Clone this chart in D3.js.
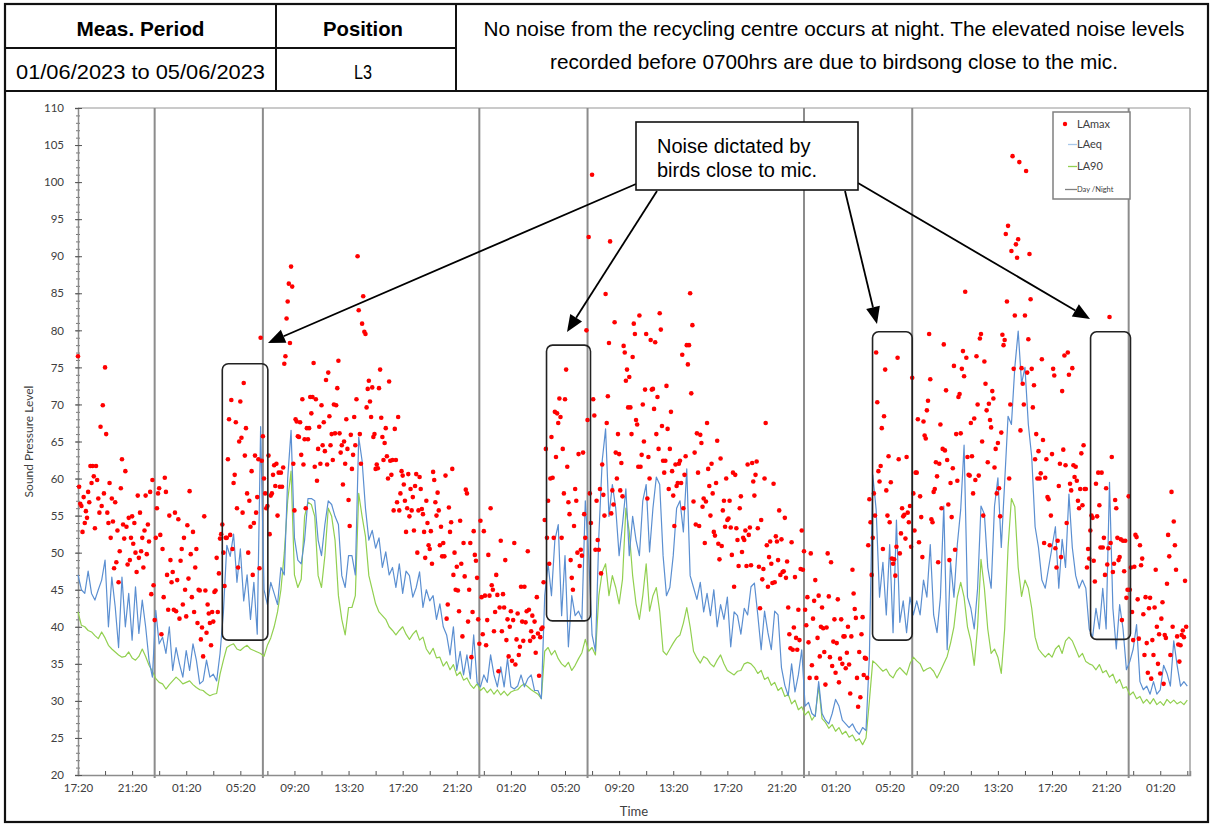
<!DOCTYPE html>
<html>
<head>
<meta charset="utf-8">
<script src="https://cdn.jsdelivr.net/npm/d3@7"></script>
<style>
  html, body { margin: 0; padding: 0; background: #fff; }
  svg { display: block; }
</style>
</head>
<body>
<svg id="chart" width="1211" height="825"></svg>
<script>
// ---- Survey metadata ----
const headerTitles = ["Meas. Period", "Position"];
const headerValues = ["01/06/2023 to 05/06/2023", "L3"];
const noteLines = [
  "No noise from the recycling centre occurs at night. The elevated noise levels",
  "recorded before 0700hrs are due to birdsong close to the mic."
];
const calloutLines = ["Noise dictated by", "birds close to mic."];

// ---- Time base ----
const startStamp = "2023-06-01T17:20";
const endStamp = "2023-06-05T03:32";
const lineStepMinutes = 15;   // LAeq / LA90 logging interval
const maxStepMinutes = 5;     // LAmax logging interval

// Day / night boundaries (23:00 and 07:00)
const dayNightStamps = [
  "2023-06-01T23:00", "2023-06-02T07:00", "2023-06-02T23:00", "2023-06-03T07:00",
  "2023-06-03T23:00", "2023-06-04T07:00", "2023-06-04T23:00"
];

// Periods where birdsong dominates the measurement
const birdPeriods = [
  { from: "2023-06-02T04:00", to: "2023-06-02T07:22", lo: 38.2, hi: 75.5 },
  { from: "2023-06-03T03:58", to: "2023-06-03T07:13", lo: 40.8, hi: 78.0 },
  { from: "2023-06-04T04:04", to: "2023-06-04T07:00", lo: 38.2, hi: 79.8 },
  { from: "2023-06-04T20:11", to: "2023-06-04T23:08", lo: 38.3, hi: 79.8 }
];

// Axis settings
const yMin = 20, yMax = 110;
const yMajorTicks = d3.range(20, 111, 5);
const yMinorTicks = d3.range(20, 111, 1);
const tickEveryHours = 2;
const labelEveryHours = 4;

// ---- Measured levels, dB(A) ----
const laeq = [
  47,45,44.5,47.5,44.5,43.6,45,46.3,49,40,
  46.7,42.7,37.2,46.7,40,44.5,38.2,45.4,39.1,43.6,
  40,35.5,33.2,42.2,37.7,38.6,36.4,40,34.1,37.2,
  35,33.2,36.8,34.1,37.7,35.5,32.3,32.7,35.5,33.2,
  33.6,32.7,36.4,42,51,49.5,52.5,46,50.5,43.5,
  47,41,46,39,67,45,43,46,44.5,43,
  48,47,60,66.5,52,49,48.5,51.7,57.3,57.3,
  57,51.7,49.6,53.8,57,56.5,54.9,53.8,46.9,45.3,
  49.6,49.6,47,65.6,62.4,56,51.7,53,50.6,52,
  48,50.1,47,48,45.3,48.5,44.5,47.5,46.9,44,
  45.3,47.4,42.6,45,43.5,44.2,41,43.1,40,38.9,
  36.2,40,34.1,36.7,33.5,36.2,33,38.9,32.5,31.9,
  33.5,32.5,36.2,33.5,31.9,34.6,31.9,35.7,31.9,31.6,
  32,33.5,31.9,33,33.5,31.4,31.4,30.3,44.2,48.5,
  44.2,51.7,53.8,41.5,49.6,37.3,44.2,41.5,42.1,41,
  57,49.6,38.9,36.7,52.2,62.4,66.7,54.9,59.2,56,
  49.6,53.8,58.6,49.6,54.9,51.7,49.6,57,59.2,50.1,
  56,60.2,59.2,49.6,44.2,45.3,49.6,56,57,52.8,
  61.3,46.9,45.3,43.7,46,42,44.5,41.5,45,40,
  43,41,44,37.3,42,41.5,39,42.5,41.6,45.4,
  45.9,41.6,36.9,42.1,39.2,36.9,42.1,41.6,34.5,32.1,
  30.7,35,31.2,33.5,36.9,29.3,29.8,28.3,27.9,32.6,
  28.3,27.4,26.9,28.3,30.2,29.3,27.4,26.9,26.4,26.9,
  26,25.5,26.4,26,36,60.5,55.8,44,48.7,41.6,
  51.1,39.2,54.4,40.6,43.5,39.2,44,41.6,43.5,41.6,
  46.3,44,51.1,41.6,39.2,44,56.3,36.9,48.7,44,
  51.1,55.8,64.5,44,42.5,39.7,45.2,56.3,55.2,48,
  45.2,56.3,60.1,50.7,59.5,68.4,67.3,75,79.9,72.8,
  75,67.3,62.9,53.5,50.7,46.3,45.2,48,50.7,53.5,
  45.2,51.8,48,57.9,50.7,46.9,45.2,46.3,45.2,39.7,
  38.6,42.5,39.7,45.2,39.7,59.5,42.5,37,43,39.7,
  34.2,35.3,37,40.3,32.6,31.5,32,30.9,32.6,30.9,
  31.5,34.8,33.7,32,38.1,34.8,32,32.6,32
];

const la90 = [
  42,40.2,40,39.5,39.3,38.8,38.4,39.3,38.5,37.5,
  37,36.6,36.2,35.9,36,36.6,35.8,35.5,36,37,
  36,34.8,34,33,32.5,32.3,31.6,32.2,32.7,33.2,
  32.8,32.3,32.5,32.7,32.2,31.8,31.5,31.4,31,30.7,
  30.9,31,33.6,35.5,37.2,37.5,37.7,37,36.8,37.2,
  37.5,37,36.8,36.6,36.4,36,37.5,38.5,40,42,
  45,50,57,61,47,45.3,46.4,54.9,56.8,56.5,
  54.9,46.9,45.3,49.6,56,54.9,51.7,44.2,41,38.9,
  42.6,42.6,44.2,58,54.9,52.2,46.9,45,43.1,42,
  41.5,41,40,39.5,38.9,39.5,40,39,38.3,39,
  39.5,38.2,38.6,37,36.3,37.1,35.8,35.9,34.7,35.3,
  34.2,34.9,33.4,33.9,32.8,33.1,32.2,31.7,32.3,31.4,
  31.8,31.1,31.6,30.9,31.5,30.8,31.3,30.7,31.2,31.4,
  31.5,32,32.3,31.9,31.5,31.2,30.9,30.3,36.7,37.2,
  36.2,36.8,35.7,35,34.6,35.2,34.1,34.8,35.7,36.5,
  38.3,36.7,37.2,36.2,44.2,47.4,48.5,44.2,46.9,45.3,
  43.1,46.4,56,52.8,46.9,43.1,41,44.2,48.5,42.1,
  44.2,45.3,42.1,36.7,36.2,37,37.8,38.5,38.9,40.5,
  42.6,40,36.7,35.8,35.1,36,35.7,35,34.6,35.5,
  36.2,35,34.1,33.8,33.5,34,34.1,35,35.2,35,
  34.5,33.7,34.1,32.9,33.2,32.1,32.5,31.4,31.8,30.6,
  30.9,29.6,30.1,28.8,29.2,28.1,28.6,27.4,28.1,32,
  27.6,27.1,26.3,26.8,25.9,26.4,25.5,25.9,25.1,25.4,
  24.6,24.9,24.1,25,30,35.4,35,34.5,34,34.3,
  33.5,33.1,34,34.5,34,33.5,35,35.9,35.4,35,
  34,34.3,34.5,34,33.1,34,35,36,37.8,40,
  44,46,44,40,38.1,34.8,40,49.1,45.2,39.7,
  36.4,37,35.9,33.7,39.7,50.7,57.3,56.2,48,44.1,
  46.3,45.2,42.5,38.6,37,36.4,35.9,36.4,35.9,37,
  37.5,36.4,38.1,38.6,38.1,37,35.9,36.4,35.3,35,
  34.8,34.2,34.9,33.8,34.1,33.2,33.6,32.4,32.9,31.7,
  31.9,30.8,31.2,30.3,30.6,29.7,30.2,29.6,30.3,29.5,
  29.9,29.4,30.2,29.7,30.1,29.6,29.9,29.5,30.1
];

const lamax = [
  76.5,58.9,56.6,56.3,52.8,57.5,54,55.6,54.7,58.2,56.8,61.7,
  59.4,61.7,60.3,53.3,61.7,59.8,57.3,55.4,67,56.3,69.9,58,
  75,66,55.4,54,59.4,52,57.3,54.2,47.9,56.8,48.7,53,
  46,50.2,58.7,62.6,53.8,51.9,61,53.5,48.4,54.7,49,52,
  54.9,51.2,54,50,47.4,57.7,49.3,55.4,50.2,52,48,53,
  57.7,49.8,53.8,51.5,58.2,44.4,59.8,45.6,40.9,52,56,58,
  58.7,52.4,39,50.5,44,60.1,58.2,47,42.3,55,49,46,
  47.4,42.3,55.4,42.1,46.3,54.5,41.1,48.9,50.5,43,52,45,
  41.4,53.7,46.5,58.3,49.8,44,52.8,42,48,50.5,40.5,45,
  44.9,38.3,39.9,36,54.9,44.9,39.2,43,41.8,40.5,37.5,42,
  40.7,44.7,44.9,49.3,42,47.2,51.9,52.5,53.8,50,45.5,52,
  52,62.6,68,52.4,70.6,50.5,59.4,60.5,67.6,56,48,65,
  70.4,65.5,55.4,72.9,63.1,66.8,58,50,57,53.5,61,47,
  54,63.1,55.4,57.5,62.6,47.9,79,62.4,65.7,60,58,56,
  56.3,63.1,52.5,57.7,58,60.5,61.8,59,62,55,60.8,58.9,
  60.8,58.9,61.5,75.5,76.5,81.6,83.9,86.3,78.3,88.6,85.9,62,
  55.7,68,67.7,65.7,65.6,67.6,63.2,70.7,61.9,65.3,56,66.8,
  65.3,66.8,71,68.8,71,75.6,61.6,70.7,59.7,64,67,62,
  69.9,64.5,67.6,63.7,73.3,61.9,74.3,68.4,64.5,66,62.5,70,
  66.1,69.9,72.2,75.9,66.1,63.5,64.5,59.2,65,62,68,64,
  57.1,53.6,65.9,61.3,63.2,68.3,64.5,70.7,90,82.7,66,62,
  80.9,84.6,79.8,79.5,69.6,72.1,73.2,70.4,68.3,72.3,65.6,66,
  61.3,61.9,61.4,72.2,74.7,68.2,65.6,62.5,64.8,66.8,63,60,
  73.1,62.4,60.5,62.5,55.7,66.7,62.5,56.8,68.3,55.7,58,61,
  60.4,59.2,57,52.8,56,60.6,54.9,58.6,55.7,57.5,53,59,
  60.6,50,55.7,60.2,58.6,55.9,55.2,52.8,49.3,57,54,51,
  50.5,52.9,48.5,60.9,59.8,56.8,55,58.1,55.7,51,53.5,49.5,
  51.3,49.5,60.4,41.1,43,56.1,52.8,54.1,61.3,47,50,45,
  48.1,44.9,42.1,54.3,48.5,38.7,51.3,46.8,58.5,58,40.7,45,
  51.3,35.9,42,52.9,49.7,48.9,46.6,41,37.7,54.3,44,39,
  52.9,44.2,37.5,40.9,49.7,44.2,56,45.6,45,39.4,42,47,
  44.3,34,42.6,51.6,39.4,44.4,42.6,49,38.2,41,36,40,
  42.1,35.4,40.9,51.3,34.9,38.3,41.8,36.2,37.3,45.4,40.7,38.1,
  45.4,40.6,42.1,50.2,42.3,38.1,39.4,41.5,38.6,40.7,36.5,44,
  39.1,33.4,38.6,39.7,39.9,46,54.4,64,52,57,48.5,60,
  65.6,60.1,52,69,62.9,68.8,67.5,70.8,68.3,52,64,58,
  70.7,74.7,61.6,56.8,55.2,49,46.6,45,53.6,58.6,57,50,
  63.3,48.2,50.4,49.6,63.5,55.2,52,80,67.9,92.6,58,54,
  101,70.7,68.5,50.4,57,51.7,50.4,58.6,47.2,61.9,57.8,55,
  84.9,67.5,71.1,78.3,92,55.3,58.4,56.5,81.1,63.5,60,66,
  63.3,58.4,62.1,57.6,77.9,77,73.2,74.7,69.6,73.7,69.6,66,
  76.4,80.9,79.5,67.9,67.3,61.6,82,61.6,63.2,70,65,72,
  79.5,57.3,62.9,60,78.7,72,72.1,69.4,78.4,66,71,64,
  82.3,80.1,67.1,62.4,60.8,62.4,72.5,66.7,58.6,64,69,61,
  57.7,53.6,61.9,59,59.4,62,62.4,59.4,76.7,56,60.5,63,
  78,75.4,78,85,71.5,80.7,56.9,63.5,53.8,66.1,60.8,53.6,
  65.9,64.8,56.2,57.3,51.3,56.9,67.5,61.3,59,55,62,58,
  52.8,52.3,59.4,65.1,51.2,49.1,62.7,50.9,55.7,57,53.5,60,
  54.4,54.6,57,53.4,49.7,60.8,45.4,60.5,53.3,51.7,48.2,56,
  57.6,50.1,52,51.7,53,48.2,61.9,52.4,53.4,48.3,62.1,59.6,
  57.7,60.5,62.3,53.3,48.1,42.5,54.4,46.4,47.8,60,67.5,51,
  45.4,49.4,51.5,48.5,45.9,59.3,46,52.2,51.5,49,55.7,47,
  51.8,47.4,47.5,54.7,46.6,48.8,42.6,39,37.1,51.4,36.9,39.9,
  46.7,38.5,36.9,42.3,38.2,47.8,53,47.7,50.2,42.3,40.2,44,
  37.9,33.1,49.9,34.8,41.1,43.5,46.3,33.1,38.5,44.2,36,40,
  42.6,39.8,36.6,32.2,39.9,49.9,44.1,35.9,48.7,34.7,38,41,
  33.8,37.8,43.7,32.5,35.7,41,35,38.7,38.7,34.4,36.5,40,
  34.9,31,38.7,47.7,44.5,42.4,41.2,33.1,29.2,36.6,30.5,39,
  41.3,33.5,35.8,35.7,33.1,51,57.2,54.1,47,52,58,55,
  77,70.3,61,59.6,61.7,66.8,50.5,68.4,74.7,58.4,55,63,
  54.1,59.5,49.2,48.5,49.1,46.9,50.8,76.3,62.6,49.9,52.6,56,
  54.9,55.1,51.9,62.9,55.4,54.1,56.3,50.8,73.6,58,53,60.8,
  60.8,68,51.4,57.6,54.8,49.4,67.7,65.8,65.4,69.2,70.5,79.5,
  73.4,54.5,54.1,58.2,58.6,62.2,60.3,48.7,62,67.3,56,64,
  78.1,63.8,71.9,62.5,56.5,49,59.4,54.8,61.4,75.2,50.4,66,
  59.7,71,71.4,66.1,74.8,77.2,73.8,85.2,76.3,62.9,60.5,60.4,
  67.5,63,58,68.1,59.8,76.5,70,60.4,78.9,79.5,65,55,
  75.8,72.8,69.2,62.2,70.1,67.9,66.9,71.8,70.8,61.5,64,58,
  64.8,58.7,54.9,66.2,79.4,78,78.7,93,83.9,94.1,60,70,
  90.7,103.5,74.8,82,91.6,89.8,92.3,102.7,66.5,74.9,72.8,70,
  82,101.5,74.3,78.8,90.3,84.2,74.8,69.6,72.6,62.6,66,60,
  63.7,60,60.7,76.1,65.2,51.3,60.1,62.6,57.5,57.2,51,55,
  63.3,74.8,73.9,50.6,48,51.6,59,62,49.4,71.8,63.9,76.6,
  61.8,54,77,74,59.3,58.4,74.9,61.8,60.2,61.6,59.7,57,
  56,58.6,63.4,56.4,64.5,58.6,58.6,48,50.5,49.2,53,55,
  54.7,48.9,46.1,59.3,54.9,60.8,56.4,50.7,60.8,50.7,52,47,
  58.7,48.4,50.6,81.8,51.3,62.9,47.4,48.5,57.1,56,52,49,
  49.4,51.8,40.9,51.6,47.5,51.6,43.9,45,57.6,45,48,42,
  38.2,48.1,52.4,52.1,43.7,38.4,51,48.3,49.2,41.7,36.2,44,
  37.8,33.8,42.5,43.9,33,38.2,36.2,42.6,47.7,40,35,39,
  33.7,41.1,43.3,32.3,38.9,38.5,45.8,52.4,49.5,36.2,58.2,40,
  54.2,51,47.7,38.7,37.6,35.3,37.5,38.9,39.5,38.6,46.2,40
];

// ---- Layout ----
const plot = { left: 78, right: 1190, top: 108, bottom: 775 };
const colors = {
  laeq: "#5b8fd1", laeqKey: "#a9c8ea", la90: "#92d050", lamax: "#ff0000",
  dayNight: "#8c8c8c", axis: "#8c8c8c", text: "#404040", dayNightKey: "#808080"
};
const chartFont = "Lato, 'Open Sans', sans-serif";
const narrowFont = "'Liberation Sans Narrow', 'Arial Narrow', 'Liberation Sans', sans-serif";

const parse = d3.timeParse("%Y-%m-%dT%H:%M");
const t0 = parse(startStamp), t1 = parse(endStamp);
const MIN = 60 * 1000;

const x = d3.scaleTime().domain([t0, t1]).range([plot.left, plot.right]);
const y = d3.scaleLinear().domain([yMin, yMax]).range([plot.bottom, plot.top]);

const svg = d3.select("#chart");

// ---- Header table ----
const header = svg.append("g");
const frame = { left: 5, right: 1208, top: 4, mid: 48, bottom: 91, col1: 276, col2: 456, base: 822 };
header.append("rect")
  .attr("x", frame.left).attr("y", frame.top)
  .attr("width", frame.right - frame.left).attr("height", frame.base - frame.top)
  .attr("fill", "none").attr("stroke", "#111").attr("stroke-width", 2.2);
header.append("line").attr("x1", frame.left).attr("x2", frame.right)
  .attr("y1", frame.bottom).attr("y2", frame.bottom).attr("stroke", "#111").attr("stroke-width", 2.2);
header.append("line").attr("x1", frame.left).attr("x2", frame.col2)
  .attr("y1", frame.mid).attr("y2", frame.mid).attr("stroke", "#111").attr("stroke-width", 2);
[frame.col1, frame.col2].forEach(cx => header.append("line")
  .attr("x1", cx).attr("x2", cx).attr("y1", frame.top).attr("y2", frame.bottom)
  .attr("stroke", "#111").attr("stroke-width", 2));

const cellCenters = [(frame.left + frame.col1) / 2, (frame.col1 + frame.col2) / 2 - 3];
const titleWidths = [128, 80];
const valueWidths = [249, 18];
headerTitles.forEach((t, i) => header.append("text")
  .attr("x", cellCenters[i]).attr("y", 36).attr("text-anchor", "middle")
  .attr("font-family", narrowFont).attr("font-weight", "bold").attr("font-size", 21)
  .attr("textLength", titleWidths[i]).attr("lengthAdjust", "spacingAndGlyphs")
  .attr("fill", "#000").text(t));
headerValues.forEach((t, i) => header.append("text")
  .attr("x", cellCenters[i]).attr("y", 79).attr("text-anchor", "middle")
  .attr("font-family", narrowFont).attr("font-size", 21)
  .attr("textLength", valueWidths[i]).attr("lengthAdjust", "spacingAndGlyphs")
  .attr("fill", "#000").text(t));
const noteWidths = [701, 568];
noteLines.forEach((t, i) => header.append("text")
  .attr("x", (frame.col2 + frame.right) / 2 + 2).attr("y", 36 + i * 33).attr("text-anchor", "middle")
  .attr("font-family", narrowFont).attr("font-size", 21)
  .attr("textLength", noteWidths[i]).attr("lengthAdjust", "spacingAndGlyphs")
  .attr("fill", "#000").text(t));

// ---- Plot frame ----
const g = svg.append("g");
g.append("line").attr("x1", plot.left).attr("x2", plot.right)
  .attr("y1", plot.top).attr("y2", plot.top).attr("stroke", "#b8b8b8").attr("stroke-width", 1.5);
g.append("line").attr("x1", plot.right).attr("x2", plot.right)
  .attr("y1", plot.top).attr("y2", plot.bottom).attr("stroke", "#a0a0a0").attr("stroke-width", 1.5);

// Day / night boundaries
g.selectAll("line.dn").data(dayNightStamps.map(parse)).join("line")
  .attr("class", "dn")
  .attr("x1", d => x(d)).attr("x2", d => x(d))
  .attr("y1", plot.top).attr("y2", plot.bottom + 3)
  .attr("stroke", colors.dayNight).attr("stroke-width", 2);

// ---- Axes ----
const tickTimes = d3.range(0, 83, tickEveryHours).map(h => new Date(+t0 + h * 60 * MIN));
const fmt = d3.timeFormat("%H:%M");
const xAxis = d3.axisBottom(x).tickValues(tickTimes).tickSize(-4).tickPadding(9)
  .tickFormat((d, i) => ((i * tickEveryHours) % labelEveryHours === 0 ? fmt(d) : ""));
const gx = g.append("g").attr("transform", `translate(0,${plot.bottom})`).call(xAxis);
gx.select(".domain").attr("stroke", colors.axis).attr("stroke-width", 1.5);
gx.selectAll(".tick line").attr("stroke", "#555").attr("stroke-width", 1);
gx.selectAll(".tick text").attr("font-family", chartFont).attr("font-size", 11.5).attr("fill", colors.text);

const gyMinor = g.append("g").attr("transform", `translate(${plot.left + 2},0)`)
  .call(d3.axisLeft(y).tickValues(yMinorTicks).tickSize(4).tickFormat(""));
gyMinor.select(".domain").remove();
gyMinor.selectAll(".tick line").attr("stroke", "#666").attr("stroke-width", 0.9);

const yAxis = d3.axisLeft(y).tickValues(yMajorTicks).tickSize(3).tickPadding(11);
const gy = g.append("g").attr("transform", `translate(${plot.left},0)`).call(yAxis);
gy.select(".domain").attr("stroke", colors.axis).attr("stroke-width", 1.5);
gy.selectAll(".tick line").attr("stroke", "#555").attr("x2", 4).attr("x1", -3);
gy.selectAll(".tick text").attr("font-family", chartFont).attr("font-size", 11.5).attr("fill", colors.text);

g.append("text").attr("x", (plot.left + plot.right) / 2).attr("y", 816)
  .attr("text-anchor", "middle").attr("font-family", chartFont).attr("font-size", 13)
  .attr("fill", colors.text).text("Time");
g.append("text").attr("transform", `translate(33,${(plot.top + plot.bottom) / 2}) rotate(-90)`)
  .attr("text-anchor", "middle").attr("font-family", chartFont).attr("font-size", 12)
  .attr("fill", colors.text).text("Sound Pressure Level");

// ---- Series ----
const lineTime = i => new Date(+t0 + i * lineStepMinutes * MIN);
const maxTime = i => new Date(+t0 + i * maxStepMinutes * MIN);
const line = d3.line().x((d, i) => x(lineTime(i))).y(d => y(d));

g.append("path").datum(la90).attr("d", line)
  .attr("fill", "none").attr("stroke", colors.la90).attr("stroke-width", 1.2)
  .attr("stroke-linejoin", "round");
g.append("path").datum(laeq).attr("d", line)
  .attr("fill", "none").attr("stroke", colors.laeq).attr("stroke-width", 1.2)
  .attr("stroke-linejoin", "round");
g.append("g").selectAll("circle").data(lamax).join("circle")
  .attr("cx", (d, i) => x(maxTime(i))).attr("cy", d => y(d)).attr("r", 2.3)
  .attr("fill", colors.lamax);

// ---- Annotations ----
const ann = svg.append("g");
ann.selectAll("rect.bird").data(birdPeriods).join("rect")
  .attr("class", "bird")
  .attr("x", d => x(parse(d.from))).attr("y", d => y(d.hi))
  .attr("width", d => x(parse(d.to)) - x(parse(d.from)))
  .attr("height", d => y(d.lo) - y(d.hi))
  .attr("rx", 6).attr("fill", "none").attr("stroke", "#222").attr("stroke-width", 1.6);

const callout = { x: 636, y: 122, w: 222, h: 68 };
const arrows = [
  { from: [636, 184], to: [268, 343] },
  { from: [657, 191], to: [567, 332] },
  { from: [845, 191], to: [877, 324] },
  { from: [858, 183], to: [1090, 319] }
];
arrows.forEach(a => {
  const [x1, y1] = a.from, [x2, y2] = a.to;
  const dx = x2 - x1, dy = y2 - y1, len = Math.hypot(dx, dy);
  const ux = dx / len, uy = dy / len, headLen = 17, headW = 7;
  const bx = x2 - ux * headLen, by = y2 - uy * headLen;
  ann.append("line").attr("x1", x1).attr("y1", y1).attr("x2", bx).attr("y2", by)
    .attr("stroke", "#000").attr("stroke-width", 1.8);
  ann.append("path")
    .attr("d", `M${x2},${y2}L${bx - uy * headW},${by + ux * headW}L${bx + uy * headW},${by - ux * headW}Z`)
    .attr("fill", "#000");
});
ann.append("rect").attr("x", callout.x).attr("y", callout.y)
  .attr("width", callout.w).attr("height", callout.h)
  .attr("fill", "#fff").attr("stroke", "#111").attr("stroke-width", 1.6);
calloutLines.forEach((t, i) => ann.append("text")
  .attr("x", 657).attr("y", 153 + i * 24)
  .attr("font-family", "'Liberation Sans', Arial, sans-serif").attr("font-size", 20)
  .attr("fill", "#000").text(t));

// ---- Legend ----
const lg = svg.append("g");
lg.append("rect").attr("x", 1053).attr("y", 112).attr("width", 77).attr("height", 87)
  .attr("fill", "#fff").attr("stroke", "#808080").attr("stroke-width", 1.5);
const legendItems = [
  { label: "LAmax", kind: "dot", color: colors.lamax, yy: 124, size: 11, x0: 1065 },
  { label: "LAeq", kind: "line", color: colors.laeqKey, yy: 144.5, size: 11, x0: 1068 },
  { label: "LA90", kind: "line", color: colors.la90, yy: 166.5, size: 11, x0: 1068 },
  { label: "Day /Night", kind: "line", color: colors.dayNightKey, yy: 189.5, size: 7.5, x0: 1065 }
];
legendItems.forEach(it => {
  if (it.kind === "dot") {
    lg.append("circle").attr("cx", it.x0).attr("cy", it.yy).attr("r", 2.2).attr("fill", it.color);
  } else {
    lg.append("line").attr("x1", it.x0).attr("x2", 1077)
      .attr("y1", it.yy).attr("y2", it.yy).attr("stroke", it.color).attr("stroke-width", 1.3);
  }
  lg.append("text").attr("x", 1077).attr("y", it.yy).attr("dy", "0.35em")
    .attr("font-family", chartFont).attr("font-size", it.size).attr("fill", colors.text)
    .text(it.label);
});
</script>
</body>
</html>
